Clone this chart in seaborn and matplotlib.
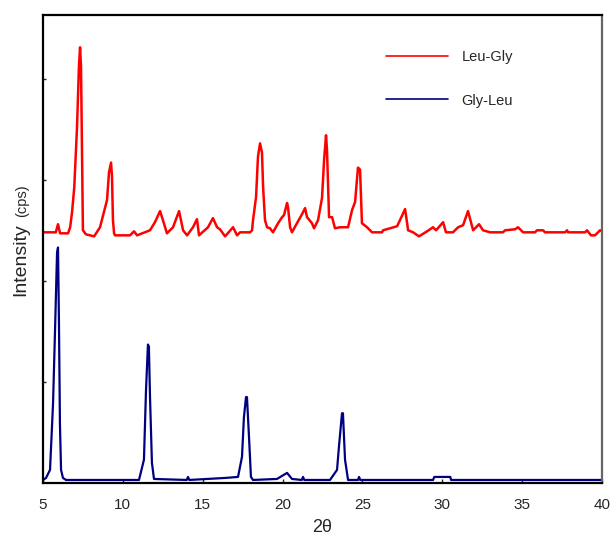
import matplotlib
matplotlib.use("Agg")
import matplotlib.pyplot as plt
import seaborn as sns
import pandas as pd

# Leu-Gly pattern (offset upward)
leu_gly_x = [5.00, 5.80, 5.94, 6.07, 6.57, 6.70, 6.82, 6.96, 7.13, 7.25, 7.32, 7.38, 7.44, 7.50,
             7.69, 8.20, 8.57, 9.01, 9.13, 9.26, 9.32, 9.38, 9.45, 9.51, 10.45, 10.70, 10.89,
             11.70, 12.01, 12.33, 12.51, 12.76, 13.14, 13.52, 13.77, 14.02, 14.39, 14.64, 14.77,
             15.33, 15.64, 15.90, 16.08, 16.40, 16.90, 17.15, 17.34, 17.96, 18.09, 18.15, 18.34,
             18.46, 18.59, 18.71, 18.78, 18.90, 19.03, 19.21, 19.40, 19.72, 19.97, 20.09, 20.28,
             20.34, 20.47, 20.59, 20.90, 21.22, 21.41, 21.53, 21.84, 21.97, 22.22, 22.47, 22.60,
             22.72, 22.78, 22.91, 23.10, 23.28, 23.60, 24.10, 24.35, 24.54, 24.72, 24.85, 24.97,
             25.29, 25.60, 26.23, 26.29, 26.73, 27.17, 27.35, 27.67, 27.86, 28.17, 28.54, 29.05,
             29.42, 29.61, 30.05, 30.23, 30.67, 30.99, 31.30, 31.61, 31.93, 32.30, 32.55, 32.99,
             33.80, 33.93, 34.56, 34.74, 35.06, 35.81, 35.93, 36.31, 36.43, 37.69, 37.81, 37.87,
             38.94, 39.06, 39.31, 39.56, 39.88, 40.00]
leu_gly_y = [248, 248, 256, 247, 247, 253, 268, 293, 352, 412, 431, 412, 327, 250,
             246, 244, 253, 280, 307, 317, 303, 260, 247, 245, 245, 249, 245,
             250, 258, 269, 260, 247, 253, 269, 250, 245, 253, 261, 245,
             253, 262, 253, 251, 244, 253, 245, 248, 248, 250, 260, 283,
             323, 336, 327, 293, 260, 253, 252, 248, 257, 263, 265, 277,
             273, 253, 248, 257, 266, 272, 263, 257, 252, 260, 282, 320,
             344, 330, 263, 263, 252, 253, 253, 270, 278, 312, 310, 257,
             253, 248, 248, 250, 252, 254, 260, 271, 250, 248, 244, 249,
             253, 250, 258, 248, 248, 253, 255, 269, 250, 256, 250, 248,
             248, 250, 251, 253, 248, 248, 250, 250, 248, 248, 250, 248,
             248, 250, 245, 245, 250, 249]

# Gly-Leu pattern
gly_leu_x = [5.00, 5.19, 5.44, 5.63, 5.75, 5.88, 5.94, 6.00, 6.06, 6.13, 6.25, 6.44,
             11.01, 11.32, 11.45, 11.57, 11.63, 11.70, 11.82, 11.95,
             14.00, 14.08, 14.16, 16.40, 17.21, 17.46, 17.58, 17.71, 17.77, 17.90, 18.02, 18.15,
             19.65, 20.28, 20.59, 21.20, 21.28, 21.36, 22.97, 23.41, 23.53, 23.72, 23.78, 23.91,
             24.10, 24.72, 24.79, 24.86, 29.42, 29.50, 30.50, 30.55, 40.00]
gly_leu_y = [3, 5, 13, 79, 149, 228, 233, 158, 59, 13, 5, 3,
             3, 23, 92, 137, 135, 85, 20, 4,
             3, 6, 3, 5, 6, 26, 65, 85, 85, 45, 6, 3,
             4, 10, 4, 3, 6, 3, 3, 13, 36, 69, 69, 23,
             3, 3, 6, 3, 3, 6, 6, 3, 3]

sns.set_style("ticks")
plt.rcParams['font.family'] = ['Liberation Sans', 'DejaVu Sans']

fig = plt.figure(figsize=(6.16, 5.39), dpi=100)
ax = fig.add_axes([0.0698, 0.1039, 0.9075, 0.8683])

red = pd.DataFrame({"x": leu_gly_x, "y": leu_gly_y})
blue = pd.DataFrame({"x": gly_leu_x, "y": gly_leu_y})
sns.lineplot(data=red, x="x", y="y", color="#ff0000", lw=1.8, estimator=None,
             sort=False, ax=ax, label="Leu-Gly")
sns.lineplot(data=blue, x="x", y="y", color="#000080", lw=1.6, estimator=None,
             sort=False, ax=ax, label="Gly-Leu")

ax.set_xlim(5, 40)
ax.set_ylim(0, 463)
ax.set_xticks([5, 10, 15, 20, 25, 30, 35, 40])
ax.set_yticks([100, 200, 300, 400])
ax.set_yticklabels([])
ax.tick_params(direction="in", length=3, width=1, labelsize=11, pad=11)
ax.tick_params(axis="y", length=2.5)
for s in ["left", "bottom", "top"]:
    ax.spines[s].set_linewidth(1.6)
    ax.spines[s].set_color("black")
ax.spines["right"].set_linewidth(1.6)
ax.spines["right"].set_color("#666666")

ax.set_xlabel("2θ", fontsize=13, labelpad=5)
ax.set_ylabel("")
fig.text(0.033, 0.518, "Intensity", rotation=90, fontsize=14, ha="center", va="center")
fig.text(0.036, 0.628, "(cps)", rotation=90, fontsize=10.5, ha="center", va="center")

leg = ax.legend(loc="upper left", bbox_to_anchor=(0.6, 0.94), frameon=False,
                handlelength=4.3, handletextpad=0.9, labelspacing=2.0, borderpad=0,
                fontsize=10.5)
for h in leg.get_lines():
    h.set_linewidth(1.2)

fig.savefig("out.png", dpi=100)
